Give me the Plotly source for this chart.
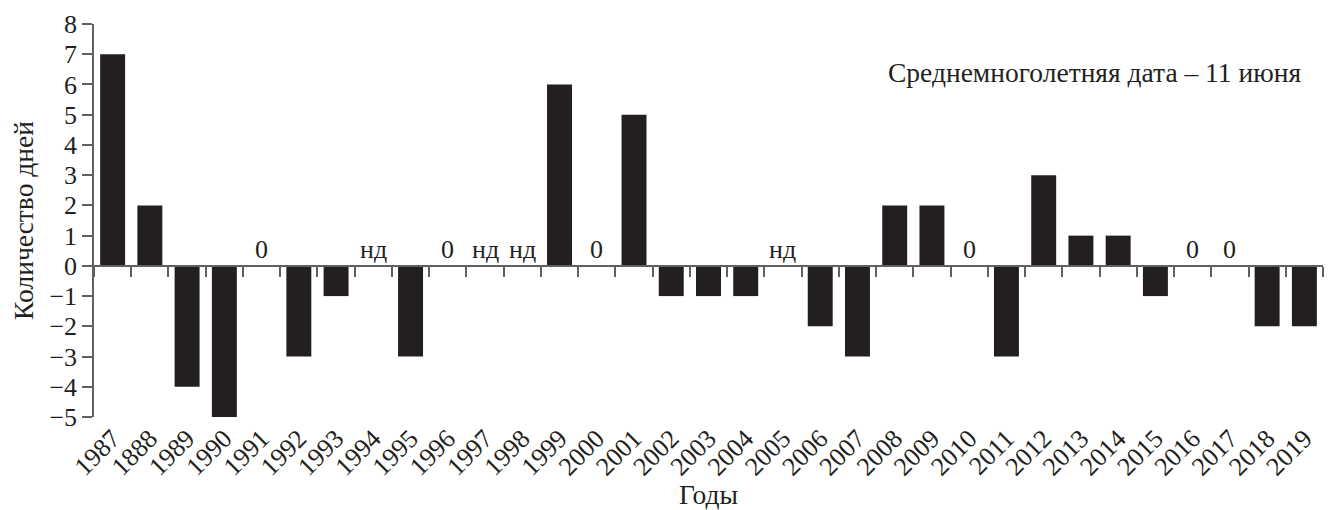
import plotly.graph_objects as go

# Отклонение даты от среднемноголетней (11 июня), дни
years = ["1987", "1888", "1989", "1990", "1991", "1992", "1993", "1994", "1995",
         "1996", "1997", "1998", "1999", "2000", "2001", "2002", "2003", "2004",
         "2005", "2006", "2007", "2008", "2009", "2010", "2011", "2012", "2013",
         "2014", "2015", "2016", "2017", "2018", "2019"]
days = [7, 2, -4, -5, 0, -3, -1, None, -3,
        0, None, None, 6, 0, 5, -1, -1, -1,
        None, -2, -3, 2, 2, 0, -3, 3, 1,
        1, -1, 0, 0, -2, -2]
y_ticks = [-5, -4, -3, -2, -1, 0, 1, 2, 3, 4, 5, 6, 7, 8]
y_min, y_max = -5, 8

INK = "#231f20"
AXIS = "#5f6062"
FONT = "Liberation Serif"
FS = 26

fig = go.Figure()

fig.add_trace(go.Bar(
    x=years, y=[0 if v is None else v for v in days],
    marker=dict(color=INK, line=dict(width=0)),
    width=0.67, xaxis="x", yaxis="y", hoverinfo="x+y",
))

# невидимая серия для оси с засечками на уровне нуля
fig.add_trace(go.Scatter(
    x=years, y=[None] * len(years), xaxis="x2", yaxis="y",
    mode="markers", showlegend=False, hoverinfo="skip",
))

# подписи "0" и "нд" над нулевой линией (позиция — порядковый номер категории)
for i, v in enumerate(days):
    if v is None or v == 0:
        fig.add_annotation(
            x=i, y=0, xref="x", yref="y", text="нд" if v is None else "0",
            showarrow=False, yanchor="bottom", yshift=0,
            font=dict(family=FONT, size=FS, color=INK),
        )

fig.add_annotation(
    x=1, y=6.4, xref="paper", yref="y", xanchor="right", yanchor="middle",
    text="Среднемноголетняя дата – 11 июня", showarrow=False, xshift=-20,
    font=dict(family=FONT, size=27.5, color=INK),
)

fig.update_layout(
    width=1332, height=510,
    margin=dict(l=94, r=9, t=24, b=93),
    paper_bgcolor="white", plot_bgcolor="white",
    showlegend=False, bargap=0.3,
    font=dict(family=FONT, size=FS, color=INK),
    xaxis=dict(
        type="category", categoryorder="array", categoryarray=years,
        range=[-0.5, len(years) - 0.5], automargin=False,
        showline=False, showgrid=False, zeroline=False, ticks="",
        tickangle=-45, tickfont=dict(family=FONT, size=FS, color=INK),
        title=dict(text="Годы", font=dict(family=FONT, size=27.5, color=INK),
                   standoff=8),
    ),
    xaxis2=dict(
        type="category", categoryorder="array", categoryarray=years,
        range=[-0.5, len(years) - 0.5],
        overlaying="x", anchor="free",
        position=(0 - y_min) / (y_max - y_min),
        showline=True, linecolor=AXIS, linewidth=1.5,
        ticks="outside", tickson="boundaries", ticklen=10, tickwidth=1.5,
        tickcolor=AXIS, showticklabels=False, showgrid=False, zeroline=False,
    ),
    yaxis=dict(
        range=[y_min, y_max], tickvals=y_ticks, showgrid=False, zeroline=False,
        automargin=False,
        showline=True, linecolor=AXIS, linewidth=1.5,
        ticks="outside", ticklen=10, tickwidth=1.5, tickcolor=AXIS,
        tickfont=dict(family=FONT, size=FS, color=INK),
        title=dict(text="Количество дней",
                   font=dict(family=FONT, size=27.5, color=INK), standoff=8),
    ),
)

fig.write_html("out.html")
